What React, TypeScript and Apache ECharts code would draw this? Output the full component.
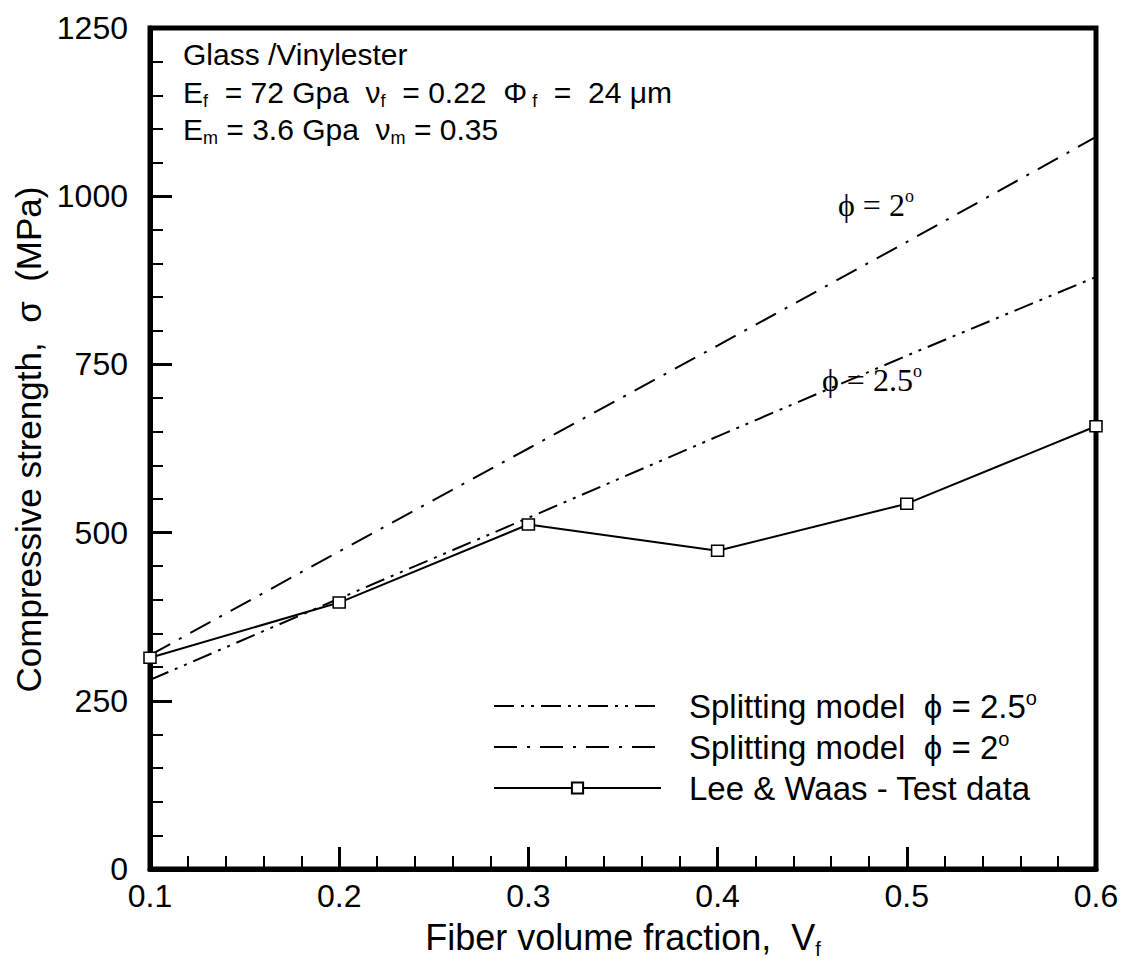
import React, { useEffect, useRef } from "react";
import * as echarts from "echarts";

// ---- data ----
const vf = [0.1, 0.2, 0.3, 0.4, 0.5, 0.6];
const splitPhi25 = [281, 402, 522, 643, 763, 880];
const splitPhi2 = [318, 472, 625, 778, 932, 1088];
const testData = [314, 396, 512, 473, 543, 658];
const xTickLabels = ["0.1", "0.2", "0.3", "0.4", "0.5", "0.6"];
const yTickLabels = ["0", "250", "500", "750", "1000", "1250"];
const seriesNames = ["phi25", "phi2", "test"];
const legendTexts: Record<string, string> = {
  phi25: "Splitting model  \u03D5 = 2.5{sup|o}",
  phi2: "Splitting model  \u03D5 = 2{sup|o}",
  test: "Lee & Waas - Test data",
};

const SANS = "'Liberation Sans', Arial, Helvetica, sans-serif";
const SERIF = "'Liberation Serif', 'Times New Roman', 'DejaVu Serif', serif";

export default function App() {
  const ref = useRef<HTMLDivElement>(null);
  useEffect(() => {
    if (!ref.current) return;
    const chart = echarts.init(ref.current, null, { renderer: "svg" });
    const pairs = (ys: number[]) => vf.map((x, i) => [x, ys[i]]);
    const sub = (fs: number) => ({
      fontSize: fs,
      fontFamily: SANS,
      verticalAlign: "bottom",
      lineHeight: fs,
      fill: "#000",
      color: "#000",
    });
    const option: any = {
      animation: false,
      backgroundColor: "#fff",
      grid: {
        left: 150,
        right: 33,
        top: 28,
        bottom: 102,
        show: true,
        borderColor: "#000",
        borderWidth: 5,
        backgroundColor: "transparent",
      },
      xAxis: {
        type: "value",
        min: 0.1,
        max: 0.6,
        interval: 0.1,
        name: "Fiber volume fraction,  V{s|f}",
        nameLocation: "middle",
        nameGap: 41,
        nameTextStyle: {
          fontFamily: SANS,
          fontSize: 36,
          color: "#000",
          lineHeight: 42,
          rich: { s: { ...sub(20) } },
        },
        axisLine: { show: true, lineStyle: { color: "#000", width: 5 } },
        axisTick: { show: true, inside: true, length: 22, lineStyle: { color: "#000", width: 3 } },
        minorTick: { show: true, splitNumber: 5, length: 13, lineStyle: { color: "#000", width: 2 } },
        splitLine: { show: false },
        axisLabel: {
          margin: 11,
          fontFamily: SANS,
          fontSize: 32,
          color: "#000",
          formatter: (v: number) => xTickLabels[Math.round((v - 0.1) * 10)] ?? "",
        },
      },
      yAxis: {
        type: "value",
        min: 0,
        max: 1250,
        interval: 250,
        name: "Compressive strength,  \u03C3  (MPa)",
        nameLocation: "middle",
        nameGap: 98,
        nameTextStyle: { fontFamily: SANS, fontSize: 35, color: "#000", padding: [0, 0, 0, 18] },
        axisLine: { show: true, lineStyle: { color: "#000", width: 5 } },
        axisTick: { show: true, inside: true, length: 22, lineStyle: { color: "#000", width: 3 } },
        minorTick: { show: true, splitNumber: 5, length: 13, lineStyle: { color: "#000", width: 2 } },
        splitLine: { show: false },
        axisLabel: {
          margin: 22,
          fontFamily: SANS,
          fontSize: 32,
          color: "#000",
          formatter: (v: number) => yTickLabels[Math.round(v / 250)] ?? "",
        },
      },
      legend: {
        data: [
          { name: "phi25", itemStyle: { opacity: 0 } },
          { name: "phi2", itemStyle: { opacity: 0 } },
          { name: "test" },
        ],
        orient: "vertical",
        left: 488,
        top: 683,
        itemWidth: 167,
        itemHeight: 14,
        itemGap: 5,
        selectedMode: false,
        formatter: (name: string) => legendTexts[name],
        textStyle: {
          fontFamily: SANS,
          fontSize: 33,
          color: "#000",
          lineHeight: 36,
          padding: [0, 0, 0, 23],
          rich: {
            sup: { fontFamily: SANS, fontSize: 20, color: "#000", verticalAlign: "top", lineHeight: 20 },
          },
        },
      },
      series: [
        {
          name: "phi25",
          type: "line",
          data: pairs(splitPhi25),
          symbol: "none",
          lineStyle: { color: "#000", width: 2, type: [20, 7, 3, 7, 3, 7] },
          itemStyle: { color: "#000" },
          z: 2,
        },
        {
          name: "phi2",
          type: "line",
          data: pairs(splitPhi2),
          symbol: "none",
          lineStyle: { color: "#000", width: 2, type: [23, 10, 3, 10] },
          itemStyle: { color: "#000" },
          z: 2,
        },
        {
          name: "test",
          type: "line",
          data: pairs(testData),
          symbol: "rect",
          symbolSize: [12, 11],
          lineStyle: { color: "#000", width: 2 },
          itemStyle: { color: "#fff", borderColor: "#000", borderWidth: 1.5 },
          z: 3,
        },
      ],
      graphic: [
        {
          type: "text",
          x: 183,
          y: 54,
          style: { text: "Glass /Vinylester", fontFamily: SANS, fontSize: 30, fill: "#000", verticalAlign: "middle" },
        },
        {
          type: "text",
          x: 183,
          y: 92,
          style: {
            text: "E{s|f}  = 72 Gpa  \u03BD{s|f}  = 0.22  \u03A6{s| f}  =  24 \u03BCm",
            fontFamily: SANS,
            fontSize: 30,
            fill: "#000",
            verticalAlign: "middle",
            lineHeight: 36,
            rich: { s: sub(18) },
          },
        },
        {
          type: "text",
          x: 183,
          y: 129,
          style: {
            text: "E{s|m} = 3.6 Gpa  \u03BD{s|m} = 0.35",
            fontFamily: SANS,
            fontSize: 30,
            fill: "#000",
            verticalAlign: "middle",
            lineHeight: 36,
            rich: { s: sub(18) },
          },
        },
        {
          type: "text",
          x: 838,
          y: 205,
          style: {
            text: "\u03D5 = 2{o|o}",
            fontFamily: SERIF,
            fontSize: 32,
            fill: "#000",
            verticalAlign: "middle",
            lineHeight: 36,
            rich: { o: { fontFamily: SERIF, fontSize: 18, verticalAlign: "top", lineHeight: 18, fill: "#000" } },
          },
        },
        {
          type: "text",
          x: 822,
          y: 380,
          style: {
            text: "\u03D5 = 2.5{o|o}",
            fontFamily: SERIF,
            fontSize: 32,
            fill: "#000",
            verticalAlign: "middle",
            lineHeight: 36,
            rich: { o: { fontFamily: SERIF, fontSize: 18, verticalAlign: "top", lineHeight: 18, fill: "#000" } },
          },
        },
      ],
    };
    chart.setOption(option);
    return () => chart.dispose();
  }, []);
  return (
    <div
      ref={ref}
      style={{ position: "fixed", left: 0, top: 0, width: 1129, height: 971, background: "#fff" }}
    />
  );
}
